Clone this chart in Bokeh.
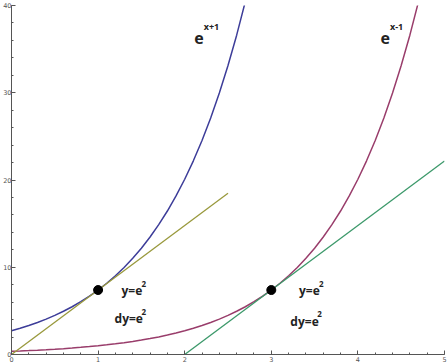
from bokeh.plotting import figure
from bokeh.models import Range1d, FixedTicker
from bokeh.core.properties import value
from bokeh.embed import file_html
from bokeh.resources import INLINE

# e^(x+1) sampled
x1 = [0.0, 0.1, 0.2, 0.3, 0.4, 0.5, 0.6, 0.7, 0.8, 0.9, 1.0, 1.1, 1.2, 1.3,
      1.4, 1.5, 1.6, 1.7, 1.8, 1.9, 2.0, 2.1, 2.2, 2.3, 2.4, 2.5, 2.6, 2.7]
y1 = [2.718, 3.004, 3.320, 3.669, 4.055, 4.482, 4.953, 5.474, 6.050, 6.686,
      7.389, 8.166, 9.025, 9.974, 11.023, 12.182, 13.464, 14.880, 16.445,
      18.174, 20.086, 22.198, 24.533, 27.113, 29.964, 33.115, 36.598, 40.447]

# e^(x-1) sampled
x2 = [0.0, 0.1, 0.2, 0.3, 0.4, 0.5, 0.6, 0.7, 0.8, 0.9, 1.0, 1.1, 1.2, 1.3,
      1.4, 1.5, 1.6, 1.7, 1.8, 1.9, 2.0, 2.1, 2.2, 2.3, 2.4, 2.5, 2.6, 2.7,
      2.8, 2.9, 3.0, 3.1, 3.2, 3.3, 3.4, 3.5, 3.6, 3.7, 3.8, 3.9, 4.0, 4.1,
      4.2, 4.3, 4.4, 4.5, 4.6, 4.7]
y2 = [0.368, 0.407, 0.449, 0.497, 0.549, 0.607, 0.670, 0.741, 0.819, 0.905,
      1.000, 1.105, 1.221, 1.350, 1.492, 1.649, 1.822, 2.014, 2.226, 2.460,
      2.718, 3.004, 3.320, 3.669, 4.055, 4.482, 4.953, 5.474, 6.050, 6.686,
      7.389, 8.166, 9.025, 9.974, 11.023, 12.182, 13.464, 14.880, 16.445,
      18.174, 20.086, 22.198, 24.533, 27.113, 29.964, 33.115, 36.598, 40.447]

# tangent lines
tan1_x = [0.0, 2.5]
tan1_y = [0.0, 18.47]
tan2_x = [2.0, 5.0]
tan2_y = [0.0, 22.17]

# tangent points
pts_x = [1.0, 3.0]
pts_y = [7.389, 7.389]

x_ticks = [0, 1, 2, 3, 4, 5]
y_ticks = [0, 10, 20, 30, 40]

C1 = "#3d3d99"
C2 = "#993d6b"
C3 = "#99993d"
C4 = "#3d996b"

p = figure(width=447, height=364, output_backend="svg", toolbar_location=None,
           x_range=Range1d(0, 5), y_range=Range1d(0, 40),
           min_border_left=0, min_border_right=3, min_border_top=5,
           min_border_bottom=0)
p.grid.visible = False
p.outline_line_color = None
p.background_fill_color = "white"

p.xaxis.ticker = FixedTicker(ticks=x_ticks,
                             minor_ticks=[i * 0.2 for i in range(26)])
p.yaxis.ticker = FixedTicker(ticks=y_ticks,
                             minor_ticks=[i * 2 for i in range(21)])
for ax in (p.xaxis, p.yaxis):
    ax.axis_line_color = "#555555"
    ax.major_tick_line_color = "#555555"
    ax.minor_tick_line_color = "#555555"
    ax.major_tick_in = 4
    ax.major_tick_out = 0
    ax.minor_tick_in = 2
    ax.minor_tick_out = 0
    ax.major_label_text_font = "DejaVu Sans"
    ax.major_label_text_font_size = "6.5px"
    ax.major_label_text_color = "#555555"
p.yaxis.major_label_standoff = 0
p.xaxis.major_label_standoff = 2

p.line(x1, y1, line_color=C1, line_width=1.5)
p.line(x2, y2, line_color=C2, line_width=1.5)
p.line(tan1_x, tan1_y, line_color=C3, line_width=1.3)
p.line(tan2_x, tan2_y, line_color=C4, line_width=1.3)
p.scatter(pts_x, pts_y, size=9, color="black")

font = value("Open Sans")
tc = "#222222"
# e^{x+1}
p.text(x=[2.11], y=[36.3], text=["e"], text_font=font, text_font_size="16px",
       text_font_style="bold", text_color=tc, text_baseline="alphabetic")
p.text(x=[2.22], y=[37.6], text=["x+1"], text_font=font, text_font_size="9px",
       text_font_style="bold", text_color=tc, text_baseline="alphabetic")
# e^{x-1}
p.text(x=[4.26], y=[36.3], text=["e"], text_font=font, text_font_size="16px",
       text_font_style="bold", text_color=tc, text_baseline="alphabetic")
p.text(x=[4.37], y=[37.6], text=["x-1"], text_font=font, text_font_size="9px",
       text_font_style="bold", text_color=tc, text_baseline="alphabetic")

# y=e^2 / dy=e^2 labels
p.text(x=[1.27, 3.32], y=[7.3, 7.3], text=["y=e", "y=e"], text_font=font,
       text_font_size="12px", text_font_style="bold", text_color=tc,
       text_baseline="alphabetic")
p.text(x=[1.5, 3.55], y=[8.1, 8.1], text=["2", "2"], text_font=font,
       text_font_size="8px", text_font_style="bold", text_color=tc,
       text_baseline="alphabetic")
p.text(x=[1.19, 3.22], y=[4.1, 3.8], text=["dy=e", "dy=e"], text_font=font,
       text_font_size="12px", text_font_style="bold", text_color=tc,
       text_baseline="alphabetic")
p.text(x=[1.5, 3.53], y=[4.9, 4.6], text=["2", "2"], text_font=font,
       text_font_size="8px", text_font_style="bold", text_color=tc,
       text_baseline="alphabetic")

open("out.html", "w").write(file_html(p, INLINE))
